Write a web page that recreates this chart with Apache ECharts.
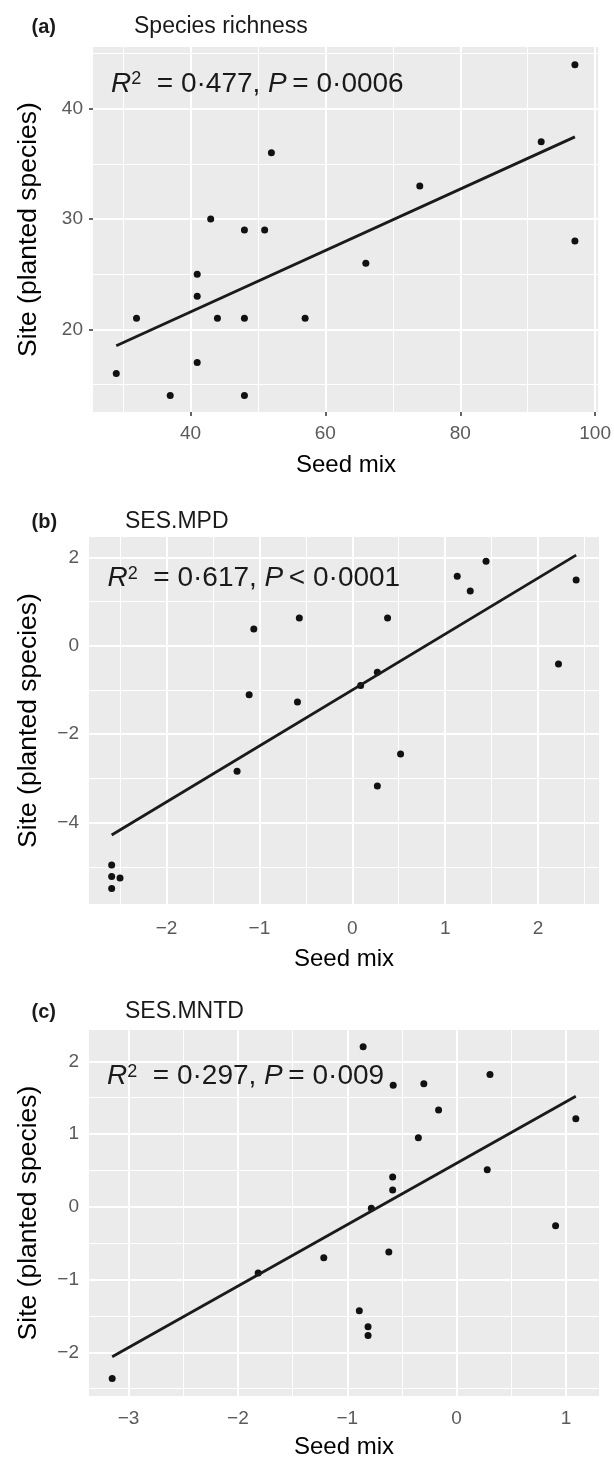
<!DOCTYPE html>
<html><head><meta charset="utf-8">
<script src="https://cdn.jsdelivr.net/npm/echarts@6/dist/echarts.min.js"></script>
<style>html,body{margin:0;padding:0;background:#fff}#c{width:614px;height:1462px}</style>
</head><body><div id="c"></div>
<script>
// ---------- DATA ----------
// (a) Species richness
const seedA = [97, 92, 52, 74, 43, 48, 51, 97, 66, 41, 41, 32, 44, 48, 57, 41, 29, 37, 48];
const siteA = [44, 37, 36, 33, 30, 29, 29, 28, 26, 25, 23, 21, 21, 21, 21, 17, 16, 14, 14];
const fitA = [[29, 18.5], [97, 37.45]];
const xRangeA = [25.55, 100.45];
const yRangeA = [12.5, 45.6];
const xTicksA = [40, 60, 80, 100];
const xMinorA = [30, 50, 70, 90];
const yTicksA = [20, 30, 40];
const yMinorA = [15, 25, 35, 45];

// (b) SES.MPD
const seedB = [1.44, 1.13, 1.27, 2.41, -0.57, 0.38, -1.06, 2.22, 0.27, 0.09, -1.11, -0.59, -1.24, 0.52, 0.27, -2.59, -2.59, -2.50, -2.59];
const siteB = [1.91, 1.57, 1.24, 1.49, 0.63, 0.63, 0.38, -0.41, -0.60, -0.90, -1.11, -1.27, -2.84, -2.45, -3.17, -4.96, -5.22, -5.25, -5.49];
const fitB = [[-2.59, -4.28], [2.41, 2.05]];
const xRangeB = [-2.834, 2.656];
const yRangeB = [-5.84, 2.46];
const xTicksB = [-2, -1, 0, 1, 2];
const xMinorB = [-2.5, -1.5, -0.5, 0.5, 1.5, 2.5];
const yTicksB = [-4, -2, 0, 2];
const yMinorB = [-5, -3, -1, 1];

// (c) SES.MNTD
const seedC = [-0.855, -0.58, -0.30, 0.305, -0.165, 1.09, -0.35, 0.28, -0.585, -0.585, -0.78, 0.905, -0.62, -1.215, -1.815, -0.89, -0.81, -0.81, -3.15];
const siteC = [2.20, 1.67, 1.69, 1.82, 1.33, 1.21, 0.95, 0.51, 0.41, 0.23, -0.02, -0.26, -0.62, -0.70, -0.91, -1.43, -1.65, -1.77, -2.36];
const fitC = [[-3.15, -2.06], [1.09, 1.52]];
const xRangeC = [-3.362, 1.302];
const yRangeC = [-2.60, 2.43];
const xTicksC = [-3, -2, -1, 0, 1];
const xMinorC = [-2.5, -1.5, -0.5, 0.5];
const yTicksC = [-2, -1, 0, 1, 2];
const yMinorC = [-2.5, -1.5, -0.5, 0.5, 1.5];

// text
const panelLabels = ['(a)', '(b)', '(c)'];
const panelTitles = ['Species richness', 'SES.MPD', 'SES.MNTD'];
const statR2 = ['0·477', '0·617', '0·297'];
const statP = ['= 0·0006', '< 0·0001', '= 0·009'];
const xTitle = 'Seed mix';
const yTitle = 'Site (planted species)';

// ---------- LAYOUT ----------
const FONT = 'Liberation Sans, Arial, Helvetica, sans-serif';
const layout = [
  {grid: {left: 93, top: 47, width: 506, height: 365}, head: 27, titleX: 134, statX: 111, statY: 84.5, xTitleY: 465, xMargin: 12},
  {grid: {left: 89, top: 537, width: 510, height: 367}, head: 522, titleX: 125, statX: 107.5, statY: 578.7, xTitleY: 959, xMargin: 15},
  {grid: {left: 89, top: 1030, width: 510, height: 366}, head: 1012, titleX: 125, statX: 107, statY: 1076.7, xTitleY: 1447, xMargin: 13}
];

const panels = [
  {x: seedA, y: siteA, fit: fitA, xr: xRangeA, yr: yRangeA, xt: xTicksA, xm: xMinorA, yt: yTicksA, ym: yMinorA},
  {x: seedB, y: siteB, fit: fitB, xr: xRangeB, yr: yRangeB, xt: xTicksB, xm: xMinorB, yt: yTicksB, ym: yMinorB},
  {x: seedC, y: siteC, fit: fitC, xr: xRangeC, yr: yRangeC, xt: xTicksC, xm: xMinorC, yt: yTicksC, ym: yMinorC}
];

const fmt = v => (v < 0 ? '\u2212' + (-v) : String(v));
const TICK_COLOR = '#5A5A5A';

const grids = [], xAxes = [], yAxes = [], series = [], graphics = [];
panels.forEach((p, i) => {
  const L = layout[i];
  grids.push(Object.assign({show: true, backgroundColor: '#EBEBEB', borderWidth: 0}, L.grid));
  xAxes.push({
    type: 'value', gridIndex: i, min: p.xr[0], max: p.xr[1],
    axisLine: {show: false}, splitLine: {show: false},
    axisTick: {show: true, length: 4, customValues: p.xt, lineStyle: {color: '#333', width: 1.5}},
    axisLabel: {customValues: p.xt, formatter: fmt, color: TICK_COLOR, fontSize: 19, fontFamily: FONT, margin: L.xMargin}
  });
  yAxes.push({
    type: 'value', gridIndex: i, min: p.yr[0], max: p.yr[1],
    axisLine: {show: false}, splitLine: {show: false},
    axisTick: {show: true, length: 4, customValues: p.yt, lineStyle: {color: '#333', width: 1.5}},
    axisLabel: {customValues: p.yt, formatter: fmt, color: TICK_COLOR, fontSize: 19, fontFamily: FONT, margin: 10}
  });
  const gridLines = []
    .concat(p.xm.map(v => ({xAxis: v, lineStyle: {width: 1}})))
    .concat(p.ym.map(v => ({yAxis: v, lineStyle: {width: 1}})))
    .concat(p.xt.map(v => ({xAxis: v, lineStyle: {width: 2}})))
    .concat(p.yt.map(v => ({yAxis: v, lineStyle: {width: 2}})));
  series.push({
    type: 'line', xAxisIndex: i, yAxisIndex: i, data: [], silent: true, z: 1,
    markLine: {silent: true, z: 1, animation: false, symbol: ['none', 'none'], label: {show: false},
      lineStyle: {color: '#FFFFFF', type: 'solid', width: 2}, emphasis: {disabled: true}, data: gridLines}
  });
  series.push({
    type: 'scatter', xAxisIndex: i, yAxisIndex: i, z: 3, symbolSize: 7,
    itemStyle: {color: '#111111', opacity: 1},
    data: p.x.map((v, k) => [v, p.y[k]])
  });
  series.push({
    type: 'line', xAxisIndex: i, yAxisIndex: i, z: 4, symbol: 'none',
    lineStyle: {color: '#1A1A1A', width: 2.8}, data: p.fit
  });

  const cx = L.grid.left + L.grid.width / 2;
  const cy = L.grid.top + L.grid.height / 2;
  graphics.push({type: 'text', x: 31.5, y: L.head, style: {text: panelLabels[i], font: 'bold 20px ' + FONT, fill: '#1A1A1A', verticalAlign: 'middle', align: 'left'}});
  graphics.push({type: 'text', x: L.titleX, y: L.head, style: {text: panelTitles[i], font: '23px ' + FONT, fill: '#1A1A1A', verticalAlign: 'middle', align: 'left'}});
  graphics.push({type: 'text', x: L.statX, y: L.statY, z: 10, style: {
    text: '{i|R}{s|2}{n|  = ' + statR2[i] + ', }{i|P}{n|\u2009' + statP[i] + '}',
    verticalAlign: 'middle', align: 'left', fill: '#1A1A1A',
    rich: {
      i: {fontStyle: 'italic', fontSize: 28, fontFamily: FONT, fill: '#1A1A1A'},
      n: {fontSize: 28, fontFamily: FONT, fill: '#1A1A1A'},
      s: {fontSize: 18, fontFamily: FONT, fill: '#1A1A1A', verticalAlign: 'top', lineHeight: 12}
    }
  }});
  graphics.push({type: 'text', x: cx, y: L.xTitleY, style: {text: xTitle, font: '24px ' + FONT, fill: '#000', align: 'center', verticalAlign: 'middle'}});
  graphics.push({type: 'text', x: 28.5, y: cy, rotation: Math.PI / 2, style: {text: yTitle, font: '26.5px ' + FONT, fill: '#000', align: 'center', verticalAlign: 'middle'}});
});

const chart = echarts.init(document.getElementById('c'), null, {renderer: 'canvas'});
chart.setOption({
  animation: false,
  backgroundColor: '#FFFFFF',
  grid: grids, xAxis: xAxes, yAxis: yAxes, series: series, graphic: graphics
});
</script></body></html>
